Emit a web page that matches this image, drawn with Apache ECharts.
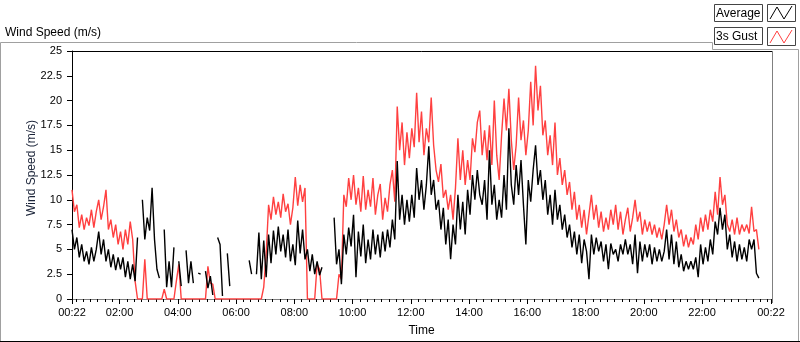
<!DOCTYPE html>
<html>
<head>
<meta charset="utf-8">
<script src="https://cdn.jsdelivr.net/npm/echarts@6.0.0/dist/echarts.min.js"></script>
<style>
  html, body { margin: 0; padding: 0; background: #fff; }
  #chart { width: 800px; height: 342px; }
</style>
</head>
<body>
<div id="chart"></div>
<script>
  // time axis in minutes since midnight, one sample every 5 minutes from 00:22
  const startMin = 22
  const stepMin = 5
  const endMin = 22 + 1440

  const labelTicks = [22, 120, 240, 360, 480, 600, 720, 840, 960, 1080, 1200, 1320, 1462]

  // 3 second gust (red)
  const gustSpeed = [
    11.0, 8.8, 9.5, 7.2, 8.5, 7.0, 8.2, 7.4, 9.0, 7.2, 8.8, 10.0, 8.0, 9.3, 11.0, 7.0, 8.0, 6.2, 7.5, 5.5, 6.8, 5.0, 7.0, 5.5, 7.8, 6.0,
    1.8, 0, 0, 0, 4.0, 0, 0, 0, 0, 0, 0, 0, 1.0, 0, 0, 0, 0, 1.8, 3.5,
    0, 0, 0, 0, 0, 0, 0, 0, 0, 0, 0, 3.3, 1.6, 1.5,
    0, 0, 0, 0, 0, 0, 0, 0, 0, 0, 0, 0, 0, 0, 0, 0, 0, 0, 0, 0,
    1.2, 4.5,
    9.5, 8.0, 10.3, 8.5, 9.8, 8.2, 10.6, 8.8, 9.6, 7.5, 9.2, 12.3, 9.4, 11.5, 9.8, 11.2,
    0, 0, 0, 0, 3.5, 3.0, 0, 0, 0, 0, 0, 0, 0, 2.5, 2.0,
    10.5, 9.3, 12.2, 10.0, 12.5, 9.5, 11.2, 8.8, 12.4, 9.0, 11.0, 9.3, 12.2, 8.5, 10.5, 11.6, 8.0, 10.2, 8.8, 11.5,
    13.0, 9.8, 19.4, 15.0, 17.8, 13.5, 16.8, 14.2, 17.2, 15.3, 20.8, 15.8, 18.9, 14.5, 17.2, 15.8, 20.3, 15.5, 13.0, 11.8,
    13.6, 10.2, 11.0, 9.0, 10.5, 8.0, 11.2, 16.2, 12.0, 15.0, 11.5, 14.0, 12.0, 16.2, 14.8, 17.8, 19.0,
    14.5, 17.0, 14.0, 17.5, 13.5, 20.0, 14.5, 12.0, 16.5, 20.2, 17.0, 21.2, 16.0, 13.0, 15.5, 20.3, 16.0, 18.0, 14.5, 17.0,
    21.9, 17.5, 23.5, 19.0, 21.5, 16.5, 18.0, 14.5, 16.5, 13.5, 17.8, 12.5, 14.2, 11.5, 13.0, 10.5, 11.8, 9.0, 10.8, 8.0,
    9.5, 7.2, 9.0, 6.5, 8.5, 10.5, 8.0, 9.5, 7.2, 8.8, 6.8, 8.2, 7.0, 9.0, 7.5,
    9.5, 7.0, 8.8, 6.5, 8.0, 9.2, 6.8, 8.2, 10.0, 7.8, 8.8, 6.5, 8.0, 6.8, 7.8, 6.5, 7.5, 6.2, 7.2, 6.0,
    7.5, 9.5, 7.5, 9.0, 6.8, 8.0, 6.2, 7.0, 5.3, 6.5, 5.2, 6.2, 5.5, 7.5, 6.0, 8.2, 6.8, 8.5, 7.0, 9.0,
    7.8, 10.8, 8.5, 12.3, 9.5, 10.5, 7.5, 6.8, 8.0, 6.5, 8.2, 6.5, 7.5, 6.8, 7.5, 6.6, 9.3, 6.8, 7.0, 5.0
  ]

  // average (black), null where nothing was logged
  const avgSpeed = [
    7.0, 5.0, 6.2, 4.2, 5.5, 3.8, 4.8, 3.5, 5.2, 3.8, 5.0, 6.8, 4.5, 6.0, 3.8, 5.0, 3.2, 4.5, 2.9, 4.2, 3.0, 4.2, 2.2, 3.8, 2.0, 3.5,
    1.8, 6.2, null,
    10.0, 6.0, 8.2, 6.9, 11.2, 6.0, 3.0, 2.1, null,
    7.0, 1.2, 3.8, 1.2, 5.2, null,
    3.8, 1.3, null,
    4.9, 1.6, 3.8, 1.6, null,
    2.6, 2.5, null,
    2.8, 1.1, 2.3, 0.4, null,
    6.2, 5.5, 0.3, null,
    4.6, 1.3,
    null, null, null, null, null, null, null,
    3.9, 2.5, null,
    2.5, 6.7, 2.0, 5.9, 2.2,
    6.5, 3.6, 6.9, 4.5, 7.3, 4.8, 6.5, 4.2, 7.0, 3.8, 5.5, 3.4, 7.9, 4.6, 7.0, 4.0,
    5.0, 2.8, 4.5, 2.5, 3.8, 2.4, 3.2,
    null, null, null, null,
    8.2, 3.5, 5.0, 1.5,
    6.5, 4.5, 7.2, 5.3, 8.5, 2.2, 6.8, 4.3, 7.5, 3.6, 6.0, 4.0, 7.0, 4.5, 6.5, 4.2, 6.8, 4.8, 7.0, 5.2,
    8.0, 6.0, 13.9, 8.0, 10.5, 7.5, 10.0, 7.8, 10.5, 8.2, 13.2, 10.0, 12.0, 9.0, 11.5, 15.4, 10.5, 12.0, 9.0, 10.0,
    7.0, 9.2, 5.5, 8.0, 4.0, 7.5, 5.5, 10.5, 7.0, 9.8, 6.5, 11.0, 8.5, 12.5, 10.0, 13.0, 10.5,
    9.5, 12.0, 8.0, 15.0, 9.5, 11.5, 8.0, 10.0, 8.2, 12.5, 9.0, 17.2, 11.5, 9.5, 13.5, 10.5, 14.0, 9.5, 5.5, 12.0,
    9.8, 13.0, 15.5, 11.5, 13.0, 10.0, 12.0, 8.5, 10.5, 7.5, 11.0, 8.0, 9.5, 7.0, 8.5, 6.2, 7.5, 5.2, 6.8, 4.5,
    6.5, 3.6, 6.0, 4.8, 2.0, 6.5, 4.5, 6.2, 4.8, 5.8, 3.8, 5.5, 3.0, 5.6, 4.5,
    5.0, 3.8, 5.5, 4.5, 6.0, 4.5, 5.5, 3.5, 6.5, 2.6, 5.8, 3.8, 5.5, 4.2, 5.5, 3.5, 5.2, 3.8, 5.0, 3.8,
    4.8, 7.0, 4.0, 6.5, 3.5, 5.8, 3.2, 4.5, 2.8, 3.8, 3.0, 3.8, 3.0, 4.2, 2.2, 5.5, 3.5, 5.2, 3.8, 6.0,
    4.5, 7.8, 6.5, 9.2, 7.0, 8.5, 5.0, 6.5, 4.2, 5.8, 3.8, 5.5, 4.0, 5.2, 3.8, 6.0, 5.0, 6.0, 2.6, 2.1
  ]

  const font = '"Liberation Sans", Arial, sans-serif'

  function pad(n) {
    return (n < 10 ? '0' : '') + n
  }
  function fmtTime(v) {
    let m = Math.round(v) % 1440
    return pad(Math.floor(m / 60)) + ':' + pad(m % 60)
  }
  function toPairs(arr) {
    return arr.map((v, i) => [startMin + i * stepMin, v])
  }

  let minorTicks = []
  for (let m = 30; m < endMin; m += 15) minorTicks.push(m)

  const chart = echarts.init(document.getElementById('chart'), null, { renderer: 'canvas' })

  let option = {
    animation: false,
    backgroundColor: '#fff',
    grid: {
      left: 72,
      top: 51,
      width: 699,
      height: 251.5
    },
    xAxis: [{
      type: 'value',
      min: 22,
      max: endMin,
      position: 'bottom',
      axisLine: { lineStyle: { color: '#808080', width: 1 } },
      axisTick: { customValues: labelTicks, length: 5, lineStyle: { color: '#000' } },
      axisLabel: {
        customValues: labelTicks,
        formatter: fmtTime,
        margin: 8,
        color: '#000',
        fontSize: 11,
        fontFamily: font
      },
      splitLine: { show: false },
      name: 'Time',
      nameLocation: 'middle',
      nameGap: 26,
      nameTextStyle: { color: '#000', fontSize: 12, fontFamily: font }
    }, {
      type: 'value',
      min: 22,
      max: endMin,
      position: 'bottom',
      axisLine: { show: false },
      axisTick: { customValues: minorTicks, length: 3, lineStyle: { color: '#000' } },
      axisLabel: { show: false },
      splitLine: { show: false }
    }],
    yAxis: {
      type: 'value',
      min: 0,
      max: 25,
      interval: 2.5,
      axisLine: { show: true, lineStyle: { color: '#000' } },
      axisTick: { show: true, length: 5, lineStyle: { color: '#000' } },
      axisLabel: { color: '#000', fontSize: 11, fontFamily: font, margin: 10 },
      splitLine: { show: false }
    },
    series: [{
      name: '3s Gust',
      type: 'line',
      data: toPairs(gustSpeed),
      showSymbol: false,
      symbol: 'none',
      connectNulls: false,
      silent: true,
      lineStyle: { color: '#ff4040', width: 1.4 }
    }, {
      name: 'Average',
      type: 'line',
      data: toPairs(avgSpeed),
      showSymbol: false,
      symbol: 'none',
      connectNulls: false,
      silent: true,
      lineStyle: { color: '#000', width: 1.4 }
    }],
    graphic: [
      // outer frame
      { type: 'polyline', silent: true, shape: { points: [[0.5, 341], [0.5, 42.5], [712.5, 42.5], [712.5, 49.5], [798.5, 49.5], [798.5, 341]] },
        style: { stroke: '#a0a0a0', fill: null, lineWidth: 1 } },
      { type: 'line', silent: true, shape: { x1: 0, y1: 341.5, x2: 800, y2: 341.5 }, style: { stroke: '#000', lineWidth: 1 } },
      // plot border top / right
      { type: 'line', silent: true, shape: { x1: 71.5, y1: 51.5, x2: 772, y2: 51.5 }, style: { stroke: '#000', lineWidth: 1 } },
      { type: 'line', silent: true, shape: { x1: 772.5, y1: 51, x2: 772.5, y2: 303 }, style: { stroke: '#808080', lineWidth: 1 } },
      // titles
      { type: 'text', silent: true, x: 5, y: 33,
        style: { text: 'Wind Speed (m/s)', font: '12px ' + font, fill: '#000', verticalAlign: 'middle' } },
      { type: 'text', silent: true, x: 32, y: 168, rotation: Math.PI / 2,
        style: { text: 'Wind Speed (m/s)', font: '12px ' + font, fill: '#1a2338', align: 'center', verticalAlign: 'middle' } },
      // legend
      { type: 'rect', silent: true, shape: { x: 714.5, y: 4.5, width: 48, height: 17 }, style: { fill: '#fff', stroke: '#444' } },
      { type: 'text', silent: true, x: 716, y: 13.5, style: { text: 'Average', font: '12px ' + font, fill: '#000', verticalAlign: 'middle' } },
      { type: 'rect', silent: true, shape: { x: 767.5, y: 4.5, width: 28, height: 17 }, style: { fill: '#fff', stroke: '#444' } },
      { type: 'polyline', silent: true, shape: { points: [[770, 19], [777, 7], [784, 19], [792, 6]] }, style: { stroke: '#000', fill: null } },
      { type: 'rect', silent: true, shape: { x: 714.5, y: 27.5, width: 48, height: 17 }, style: { fill: '#fff', stroke: '#444' } },
      { type: 'text', silent: true, x: 716, y: 36.5, style: { text: '3s Gust', font: '12px ' + font, fill: '#000', verticalAlign: 'middle' } },
      { type: 'rect', silent: true, shape: { x: 767.5, y: 27.5, width: 28, height: 18 }, style: { fill: '#fff', stroke: '#444' } },
      { type: 'polyline', silent: true, shape: { points: [[770, 43], [777, 31], [784, 43], [792, 30]] }, style: { stroke: '#ff4040', fill: null } }
    ]
  }
  chart.setOption(option)
</script>
</body>
</html>
